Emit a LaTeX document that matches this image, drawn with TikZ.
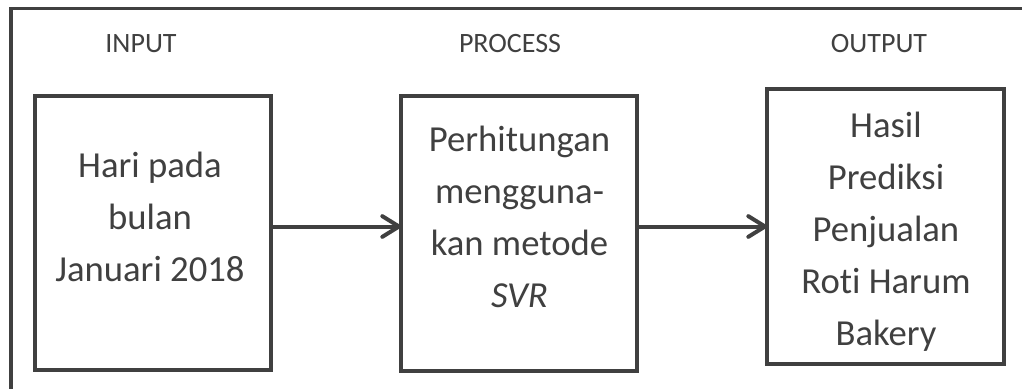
\documentclass[tikz,border=0pt]{standalone}
\usepackage{fontspec}
\setmainfont{Carlito}[Ligatures=NoCommon]
\usetikzlibrary{arrows.meta}
\definecolor{ink}{RGB}{64,64,64}
\begin{document}
\begin{tikzpicture}[x=0.75pt,y=-0.75pt,
  frameline/.style={draw=ink,line width=2.8pt},
  stagebox/.style={draw=ink,line width=3pt,fill=none,inner sep=0pt,outer sep=0pt},
  stagetext/.style={anchor=base,align=center,text=ink,inner sep=0pt,
    font=\fontsize{27.5}{39}\selectfont},
  heading/.style={anchor=base,text=ink,inner sep=0pt,
    font=\fontsize{21}{25}\selectfont},
  flow/.style={draw=ink,line width=3pt,
    -{Straight Barb[length=12.5pt,width=15.5pt,line join=round,line cap=round]}}]
\useasboundingbox (0,0) rectangle (1022,389);
\clip (0,0) rectangle (1022,389);
\fill[white] (0,0) rectangle (1022,389);

% outer frame, running off the right and bottom edges
\draw[frameline] (11,8.5) rectangle (1060,430);

% column headings
\node[heading] (hin)  at (141,52) {INPUT};
\node[heading] (hpro) at (510,52) {PROCESS};
\node[heading] (hout) at (879,52) {OUTPUT};

% the three stages
\node[stagebox,minimum width=177pt,minimum height=205.5pt] (inbox)   at (153,233) {};
\node[stagebox,minimum width=177pt,minimum height=206.6pt] (procbox) at (519,233.25) {};
\node[stagebox,minimum width=177.75pt,minimum height=206.6pt] (outbox) at (885.5,226.25) {};

% text nodes are placed by the baseline of their last line
\node[stagetext] (intext)   at (150,281)   {Hari pada\\bulan\\Januari 2018};
\node[stagetext] (proctext) at (519.5,307) {Perhitungan\\mengguna-\\kan metode\\\textit{SVR}};
\node[stagetext] (outtext)  at (886,345.5) {Hasil\\Prediksi\\Penjualan\\Roti Harum\\Bakery};

% connectors
\coordinate (flowline) at (0,226.5);
\draw[flow] (inbox.east |- flowline) -- (procbox.west |- flowline);
\draw[flow] (procbox.east |- flowline) -- (outbox.west |- flowline);
\end{tikzpicture}
\end{document}
